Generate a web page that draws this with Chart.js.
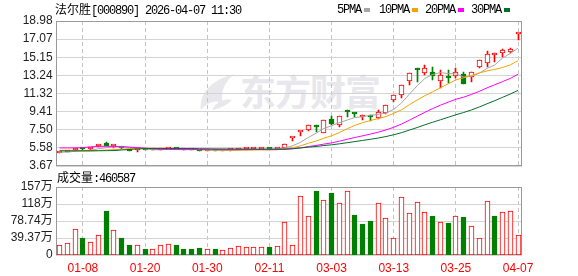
<!DOCTYPE html>
<html><head><meta charset="utf-8">
<script src="https://cdn.jsdelivr.net/npm/chart.js@4.4.1/dist/chart.umd.min.js"></script>
<style>
html,body{margin:0;padding:0;background:#fff;}
#wrap{position:relative;width:578px;height:276px;overflow:hidden;background:#fff;}
canvas{position:absolute;left:0;z-index:2;}
#c1{top:0;}
#c2{top:170px;}
.t{position:absolute;white-space:nowrap;color:#000;font-size:12px;line-height:12px;z-index:3;}
.cjk{font-family:"Noto Sans CJK SC",sans-serif;}
.mono{font-family:"Liberation Mono",monospace;letter-spacing:-1.2px;}
.sq{position:absolute;width:6px;height:4px;top:8px;z-index:3;}
#wm{position:absolute;left:240px;top:68px;font-family:"Noto Sans CJK SC",sans-serif;font-weight:bold;font-size:36px;line-height:44px;color:#e8e8ec;z-index:1;letter-spacing:-1px;}
#logo{position:absolute;left:198px;top:74px;z-index:1;}
</style></head>
<body>
<div id="wrap">
  <div id="wm">东方财富</div>
  <svg id="logo" width="42" height="38" viewBox="0 0 42 38"><path d="M3,36 C1,22 10,7 36,0 C26,9 22,18 25,30 C18,25 10,28 3,36 Z" fill="#e8e8ec"/><path d="M14,36 C18,28 26,24 34,26 C30,30 24,34 14,36 Z" fill="#e8e8ec"/></svg>
  <canvas id="c1" width="578" height="180"></canvas>
  <canvas id="c2" width="578" height="106"></canvas>
  <div class="t" style="left:55px;top:3px;"><span class="cjk">法尔胜</span><span class="mono">[000890] 2026-04-07 11:30</span></div>
  <div class="t mono" style="left:337px;top:4px;">5PMA</div><div class="sq" style="left:364px;background:#a6a6a6;"></div>
  <div class="t mono" style="left:379px;top:4px;">10PMA</div><div class="sq" style="left:412px;background:#f4a300;"></div>
  <div class="t mono" style="left:425px;top:4px;">20PMA</div><div class="sq" style="left:458px;background:#ff00ff;"></div>
  <div class="t mono" style="left:471px;top:4px;">30PMA</div><div class="sq" style="left:504px;background:#006f2a;"></div>
  <div class="t" style="left:57px;top:171px;"><span class="cjk">成交量</span><span class="mono">:460587</span></div>
</div>
<script>
const dates = ['01-05','01-06','01-07','01-08','01-09','01-12','01-13','01-14','01-15','01-16','01-19','01-20','01-21','01-22','01-23','01-26','01-27','01-28','01-29','01-30','02-02','02-03','02-04','02-05','02-06','02-09','02-10','02-11','02-12','02-13','02-24','02-25','02-26','02-27','03-02','03-03','03-04','03-05','03-06','03-09','03-10','03-11','03-12','03-13','03-16','03-17','03-18','03-19','03-20','03-23','03-24','03-25','03-26','03-27','03-30','03-31','04-01','04-02','04-03','04-07'];
const open  = [5.05,5.12,5.33,5.48,5.42,5.82,6.10,5.78,5.62,5.42,5.33,5.40,5.36,5.40,5.45,5.60,5.45,5.40,5.36,5.27,5.31,5.28,5.32,5.33,5.42,5.44,5.46,5.49,5.45,5.60,6.62,7.28,7.45,7.82,7.20,8.68,7.98,9.42,9.18,8.84,8.90,8.70,9.25,10.63,11.20,12.60,13.85,13.50,13.62,12.60,13.20,13.20,13.40,13.10,14.10,14.55,15.37,15.60,15.68,17.66];
const high  = [5.15,5.20,5.52,5.52,5.53,5.90,6.25,5.84,5.65,5.45,5.42,5.42,5.42,5.46,5.58,5.62,5.48,5.42,5.38,5.33,5.33,5.34,5.37,5.44,5.47,5.48,5.50,5.50,5.49,6.04,6.62,7.28,8.02,8.05,8.52,8.95,8.96,9.57,9.30,9.04,9.10,9.57,10.12,11.16,12.23,13.53,14.00,14.34,14.10,13.82,13.80,14.00,13.60,13.58,14.90,15.86,15.60,16.04,16.10,17.66];
const low   = [5.03,5.10,5.30,5.38,5.40,5.70,5.76,5.60,5.48,5.25,5.15,5.33,5.34,5.38,5.43,5.43,5.38,5.34,5.24,5.25,5.26,5.27,5.30,5.32,5.40,5.42,5.44,5.44,5.43,5.45,6.35,6.82,7.40,7.28,7.15,8.02,7.74,8.86,8.80,8.52,8.45,8.65,9.20,10.45,10.81,12.22,12.57,13.30,12.70,11.90,12.40,12.95,12.30,12.57,14.05,14.10,14.65,15.22,15.60,17.00];
const close = [5.13,5.18,5.48,5.42,5.50,5.86,5.78,5.80,5.52,5.28,5.40,5.36,5.40,5.44,5.55,5.45,5.40,5.36,5.27,5.30,5.28,5.32,5.35,5.42,5.45,5.46,5.48,5.46,5.47,6.02,6.62,7.28,8.00,7.75,8.50,8.06,8.93,9.36,9.12,8.88,8.84,9.38,10.10,11.12,12.22,13.45,13.78,13.98,13.20,13.24,12.95,13.62,12.35,13.55,14.90,15.50,15.42,15.94,16.05,17.66];
const ma5  = [5.12,5.14,5.22,5.28,5.34,5.49,5.61,5.67,5.69,5.65,5.56,5.47,5.39,5.38,5.43,5.44,5.45,5.44,5.41,5.36,5.32,5.31,5.30,5.33,5.36,5.40,5.43,5.45,5.46,5.58,5.81,6.17,6.68,7.13,7.63,7.92,8.25,8.52,8.79,8.87,9.03,9.12,9.26,9.66,10.33,11.25,12.13,12.91,13.33,13.53,13.43,13.40,13.07,13.14,13.47,13.98,14.34,15.06,15.56,16.11];
const ma10 = [5.33,5.33,5.32,5.26,5.24,5.30,5.36,5.40,5.44,5.50,5.52,5.54,5.53,5.53,5.54,5.50,5.46,5.42,5.39,5.39,5.38,5.38,5.37,5.37,5.36,5.36,5.37,5.38,5.40,5.47,5.61,5.80,6.07,6.30,6.60,6.86,7.21,7.60,7.96,8.25,8.47,8.68,8.89,9.23,9.60,10.14,10.63,11.09,11.50,11.93,12.34,12.77,12.99,13.23,13.50,13.71,13.87,14.07,14.35,14.79];
const ma20 = [5.58,5.58,5.58,5.60,5.70,5.74,5.75,5.74,5.72,5.66,5.62,5.55,5.48,5.44,5.42,5.41,5.40,5.40,5.41,5.44,5.45,5.46,5.45,5.45,5.45,5.43,5.41,5.40,5.40,5.43,5.49,5.59,5.72,5.84,5.98,6.11,6.29,6.49,6.68,6.86,7.04,7.24,7.48,7.76,8.10,8.50,8.92,9.34,9.73,10.09,10.41,10.72,10.94,11.23,11.55,11.92,12.25,12.58,12.92,13.36];
const ma30 = [5.27,5.27,5.27,5.27,5.28,5.28,5.29,5.30,5.36,5.42,5.48,5.50,5.52,5.52,5.52,5.52,5.52,5.51,5.50,5.48,5.46,5.45,5.45,5.45,5.45,5.45,5.45,5.45,5.45,5.45,5.50,5.57,5.66,5.73,5.83,5.91,6.01,6.13,6.25,6.37,6.49,6.62,6.78,6.97,7.19,7.46,7.73,8.02,8.29,8.55,8.81,9.08,9.32,9.59,9.90,10.24,10.57,10.92,11.27,11.66];
const volume = [23.2,27.8,59.4,39.4,30.1,46.3,101.9,57.1,39.4,23.2,22.4,13.9,13.9,23.2,24.7,23.2,13.9,13.9,16.2,13.9,13.9,10.8,16.2,20.8,18.5,18.5,18.5,18.5,20.8,75.7,23.2,136.6,90.3,149.0,127.4,143.6,120.4,148.2,92.6,71.8,78.7,120.4,85.7,39.4,134.3,97.3,122.7,99.6,90.3,76.4,74.1,90.3,88.0,67.2,39.4,125.1,90.3,99.6,101.9,46.06];
const volUp = [1,1,1,0,1,1,0,1,0,0,1,0,1,1,1,0,0,0,0,1,0,1,1,1,1,1,1,0,1,1,1,1,1,0,1,0,1,1,0,0,0,1,1,1,1,1,1,1,0,1,0,1,0,1,1,1,0,1,1,1];
const priceTicks = [3.67,5.58,7.50,9.41,11.32,13.24,15.15,17.07,18.98];
const priceTickLabels = ['3.67','5.58','7.50','9.41','11.32','13.24','15.15','17.07','18.98'];
const volTicks = [0,39.37,78.74,118.11,157.48];
const volTickLabels = ['0','39.37万','78.74万','118万','157万'];
const tickDates = ['01-08','01-20','01-30','02-11','03-03','03-13','03-25','04-07'];

const RED = '#ff0000', GREEN = '#008000';
const up = dates.map((d, i) => close[i] >= open[i]);
const showIdx = dates.map(d => tickDates.includes(d));
Chart.defaults.font.family = '"Liberation Sans", "Noto Sans CJK SC", sans-serif';
Chart.defaults.font.size = 12;

const frame = {
  id: 'frame',
  beforeDatasetsDraw(chart) {
    const {ctx, chartArea: a} = chart;
    ctx.save();
    ctx.strokeStyle = '#9a9a9a';
    ctx.lineWidth = 1;
    const l = Math.round(a.left) + 0.5, t = Math.round(a.top) + 0.5;
    const r = Math.round(a.right) - 0.5, b = Math.round(a.bottom) - 0.5;
    ctx.strokeRect(l, t, r - l, b - t);
    ctx.restore();
  }
};
const snap = {
  id: 'snap',
  afterDatasetsUpdate(chart) {
    chart.data.datasets.forEach((ds, di) => {
      const meta = chart.getDatasetMeta(di);
      if (meta.type !== 'bar') return;
      meta.data.forEach(el => {
        el.x = Math.round(el.x - 0.5) + 0.5;
        el.y = Math.round(el.y);
        el.base = Math.round(el.base);
      });
    });
  }
};
const xGrid = {
  offset: false, drawTicks: false,
  color: c => showIdx[c.index] ? '#c4c4c4' : 'rgba(0,0,0,0)'
};
const line = (d, c) => ({type: 'line', data: d, borderColor: c, borderWidth: 1, pointRadius: 0, tension: 0, fill: false, order: -1});

new Chart(document.getElementById('c1'), {
  type: 'bar',
  data: {
    labels: dates,
    datasets: [
      line(ma30, '#006f2a'), line(ma20, '#ff00ff'), line(ma10, '#f4a300'), line(ma5, '#a6a6a6'),
      {data: dates.map((d, i) => [low[i], high[i]]), backgroundColor: up.map(u => u ? RED : GREEN),
       barThickness: 1, grouped: false, order: 2, minBarLength: 1},
      {data: dates.map((d, i) => [open[i], close[i]]), backgroundColor: up.map(u => u ? '#ffffff' : GREEN),
       borderColor: up.map(u => u ? RED : GREEN), borderWidth: 1, borderSkipped: false,
       barThickness: 5, minBarLength: 2, grouped: false, order: 1}
    ]
  },
  options: {
    responsive: false, animation: false, devicePixelRatio: 1,
    layout: {padding: {top: 21, right: 56, bottom: 14, left: 0}},
    plugins: {legend: {display: false}, tooltip: {enabled: false}},
    scales: {
      x: {ticks: {display: false}, grid: xGrid, border: {display: false, dash: [4, 3]},
          afterFit: s => { s.height = 0; }},
      y: {min: 3.67, max: 18.98,
          afterBuildTicks: s => { s.ticks = priceTicks.map(v => ({value: v})); },
          ticks: {callback: (v, i) => priceTickLabels[i], color: '#222', padding: 3, autoSkip: false},
          grid: {color: '#d4d4d4', drawTicks: false}, border: {display: false},
          afterFit: s => { s.width = 55.7; }}
    }
  },
  plugins: [frame, snap]
});

new Chart(document.getElementById('c2'), {
  type: 'bar',
  data: {
    labels: dates,
    datasets: [{data: volume, backgroundColor: volUp.map(u => u ? '#ffffff' : GREEN),
      borderColor: volUp.map(u => u ? RED : GREEN), borderWidth: 1, borderSkipped: false, barThickness: 5}]
  },
  options: {
    responsive: false, animation: false, devicePixelRatio: 1,
    layout: {padding: {top: 17, right: 56, bottom: 0, left: 0}},
    plugins: {legend: {display: false}, tooltip: {enabled: false}},
    scales: {
      x: {ticks: {autoSkip: false, maxRotation: 0, color: RED, padding: 6,
                  callback: (v, i) => showIdx[i] ? dates[i] : ''},
          grid: xGrid, border: {display: false, dash: [4, 3]},
          afterFit: s => { s.height = 21; }},
      y: {min: 0, max: 157.48,
          afterBuildTicks: s => { s.ticks = volTicks.map(v => ({value: v})); },
          ticks: {callback: (v, i) => volTickLabels[i], color: '#222', padding: 3, autoSkip: false},
          grid: {color: '#d4d4d4', drawTicks: false}, border: {display: false},
          afterFit: s => { s.width = 55.7; }}
    }
  },
  plugins: [frame, snap]
});
</script>
</body></html>
